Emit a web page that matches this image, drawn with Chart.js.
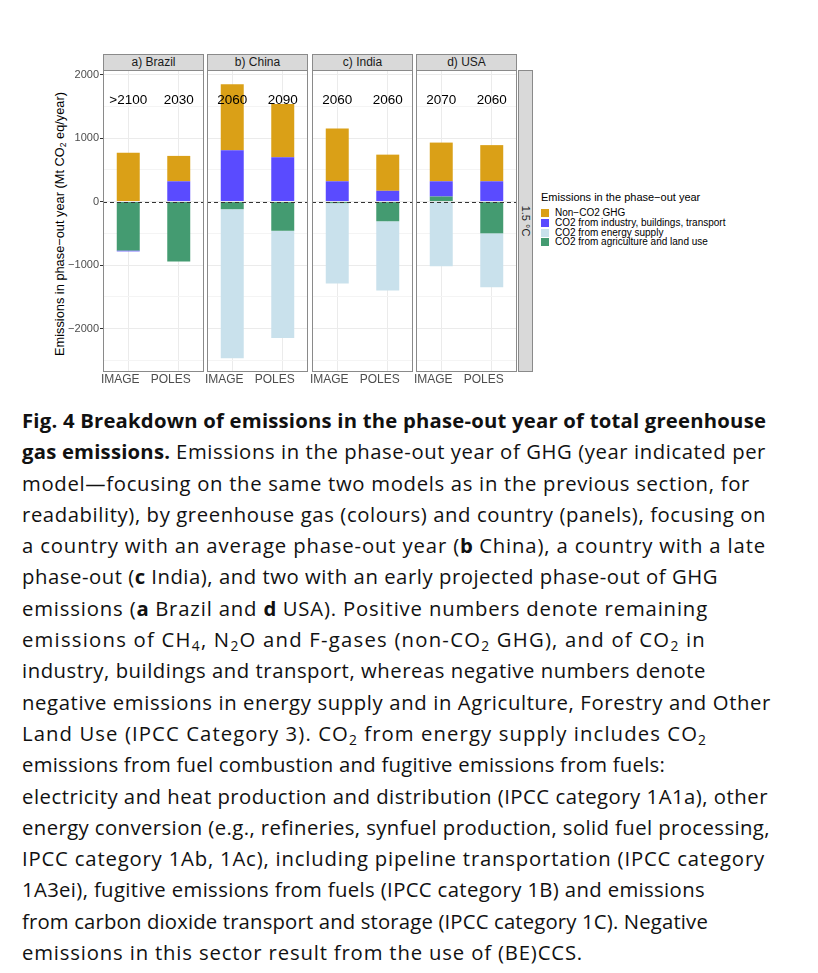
<!DOCTYPE html>
<html>
<head>
<meta charset="utf-8">
<script src="https://cdn.jsdelivr.net/npm/chart.js@4.4.1/dist/chart.umd.min.js"></script>
<style>
  body { margin: 0; background: #fff; width: 818px; height: 973px; position: relative; overflow: hidden;
         font-family: "Liberation Sans", Arial, sans-serif; }
  .panel { position: absolute; top: 70px; }
  .strip { position: absolute; top: 54px; height: 17px; background: #d9d9d9; border: 1px solid #8a8a8a;
           box-sizing: border-box; font-size: 12px; color: #1a1a1a; text-align: center; line-height: 15px; }
  #rstrip { position: absolute; left: 518px; top: 70px; width: 15px; height: 302px; background: #d9d9d9;
            border: 1px solid #8a8a8a; box-sizing: border-box; }
  #rstrip span { position: absolute; left: 50%; top: 50%; transform: translate(-50%, -50%) rotate(90deg);
                 font-size: 11px; white-space: nowrap; color: #1a1a1a; }
  #ytitle { position: absolute; left: 59px; top: 224px; transform: translate(-50%, -50%) rotate(-90deg);
            font-size: 12.8px; white-space: nowrap; color: #000; }
  #ytitle sub { font-size: 8.5px; vertical-align: -2px; line-height: 0; }
  #legend { position: absolute; left: 541px; top: 191px; font-size: 10px; color: #000; }
  #legend .lt { font-size: 11px; margin-bottom: 5px; }
  #legend .li { height: 9.8px; line-height: 9.8px; white-space: nowrap; }
  #legend .li span { display: inline-block; width: 8px; height: 8px; margin-right: 6px; vertical-align: -1px; }
  #caption { position: absolute; left: 22px; top: 405px; font-family: "Open Sans", sans-serif; font-size: 20.3px;
             letter-spacing: 0.45px; line-height: 31.3px; color: #111; }
  #caption div { white-space: nowrap; }
  #caption div span { display: inline-block; }
  #caption sub { font-size: 0.68em; vertical-align: -0.3em; line-height: 0; }
</style>
</head>
<body>
<div id="ytitle">Emissions in phase−out year (Mt CO<sub>2</sub> eq/year)</div>
<div id="rstrip"><span>1.5 °C</span></div>
<div id="legend"></div>
<div id="caption">
  <div><span><b>Fig. 4 Breakdown of emissions in the phase-out year of total greenhouse</b></span></div>
  <div><span><b>gas emissions.</b> Emissions in the phase-out year of GHG (year indicated per</span></div>
  <div><span>model—focusing on the same two models as in the previous section, for</span></div>
  <div><span>readability), by greenhouse gas (colours) and country (panels), focusing on</span></div>
  <div><span>a country with an average phase-out year (<b>b</b> China), a country with a late</span></div>
  <div><span>phase-out (<b>c</b> India), and two with an early projected phase-out of GHG</span></div>
  <div><span>emissions (<b>a</b> Brazil and <b>d</b> USA). Positive numbers denote remaining</span></div>
  <div><span>emissions of CH<sub>4</sub>, N<sub>2</sub>O and F-gases (non-CO<sub>2</sub> GHG), and of CO<sub>2</sub> in</span></div>
  <div><span>industry, buildings and transport, whereas negative numbers denote</span></div>
  <div><span>negative emissions in energy supply and in Agriculture, Forestry and Other</span></div>
  <div><span>Land Use (IPCC Category 3). CO<sub>2</sub> from energy supply includes CO<sub>2</sub></span></div>
  <div><span>emissions from fuel combustion and fugitive emissions from fuels:</span></div>
  <div><span>electricity and heat production and distribution (IPCC category 1A1a), other</span></div>
  <div><span>energy conversion (e.g., refineries, synfuel production, solid fuel processing,</span></div>
  <div><span>IPCC category 1Ab, 1Ac), including pipeline transportation (IPCC category</span></div>
  <div><span>1A3ei), fugitive emissions from fuels (IPCC category 1B) and emissions</span></div>
  <div><span>from carbon dioxide transport and storage (IPCC category 1C). Negative</span></div>
  <div><span>emissions in this sector result from the use of (BE)CCS.</span></div>
</div>
<script>
const countries = ['a) Brazil', 'b) China', 'c) India', 'd) USA'];
const models = ['IMAGE', 'POLES'];
const phaseOutYears = [['>2100', '2030'], ['2060', '2090'], ['2060', '2060'], ['2070', '2060']];

// Mt CO2 eq/year, [IMAGE, POLES] per country
const nonCO2 = [[770, 400], [1040, 840], [830, 570], [610, 570]];
const co2Industry = [[-15, 320], [810, 700], [320, 170], [240, 320]];
const co2Energy = [[0, 0], [-2350, -1690], [-1265, -1090], [-1020, -850]];
const co2Agri = [[-770, -945], [-120, -460], [-25, -310], [80, -500]];

const yTickLabels = [-2000, -1000, 0, 1000, 2000];
const yearLabelValue = 1600;

const seriesNames = ['Non−CO2 GHG', 'CO2 from industry, buildings, transport', 'CO2 from energy supply', 'CO2 from agriculture and land use'];
const seriesColors = ['#DAA017', '#5A4BFF', '#C9E1EC', '#449B71'];

const panelLeft = [103, 207, 312, 416];
const panelW = 101, panelH = 302, xLabH = 20;
const axisW = [44, 4, 4, 4];

document.getElementById('legend').innerHTML =
  '<div class="lt">Emissions in the phase−out year</div>' +
  seriesNames.map((n, k) => `<div class="li"><span style="background:${seriesColors[k]}"></span>${n}</div>`).join('');

const panelDecor = {
  id: 'panelDecor',
  afterDatasetsDraw(chart, args, opts) {
    const { ctx, chartArea: a, scales: { x, y } } = chart;
    const y0 = Math.round(y.getPixelForValue(0)) + 0.5;
    ctx.save();
    ctx.strokeStyle = '#333';
    ctx.lineWidth = 1;
    ctx.setLineDash([4, 3]);
    ctx.beginPath();
    ctx.moveTo(a.left, y0);
    ctx.lineTo(a.right, y0);
    ctx.stroke();
    ctx.setLineDash([]);
    ctx.fillStyle = '#000';
    ctx.font = '13.5px "Liberation Sans", Arial, sans-serif';
    ctx.textAlign = 'center';
    ctx.textBaseline = 'middle';
    opts.years.forEach((t, j) => ctx.fillText(t, x.getPixelForValue(j), y.getPixelForValue(yearLabelValue)));
    ctx.strokeStyle = '#8a8a8a';
    ctx.strokeRect(a.left + 0.5, a.top + 0.5, a.width - 1, a.height - 1);
    ctx.restore();
  }
};

countries.forEach((name, i) => {
  const first = i === 0;
  const strip = document.createElement('div');
  strip.className = 'strip';
  strip.style.left = panelLeft[i] + 'px';
  strip.style.width = panelW + 'px';
  strip.textContent = name;
  document.body.appendChild(strip);

  const box = document.createElement('div');
  box.className = 'panel';
  box.style.left = (panelLeft[i] - axisW[i]) + 'px';
  box.style.width = (panelW + axisW[i]) + 'px';
  box.style.height = (panelH + xLabH) + 'px';
  const cv = document.createElement('canvas');
  box.appendChild(cv);
  document.body.appendChild(box);

  // stacking order from zero outwards: agriculture, energy, industry, non-CO2
  const series = [co2Agri, co2Energy, co2Industry, nonCO2];
  const colorIdx = [3, 2, 1, 0];

  new Chart(cv, {
    type: 'bar',
    data: {
      labels: models,
      datasets: series.map((s, k) => ({
        label: seriesNames[colorIdx[k]],
        data: s[i],
        backgroundColor: seriesColors[colorIdx[k]],
        borderWidth: 0,
        barPercentage: 0.455,
        categoryPercentage: 1
      }))
    },
    options: {
      responsive: true,
      maintainAspectRatio: false,
      animation: false,
      layout: { padding: 0 },
      plugins: {
        legend: { display: false },
        tooltip: { enabled: false },
        panelDecor: { years: phaseOutYears[i] }
      },
      scales: {
        x: {
          stacked: true,
          afterFit: s => { s.height = xLabH; s.paddingLeft = 0; s.paddingRight = 0; },
          border: { display: false },
          grid: { color: '#EBEBEB', drawTicks: false, offset: false },
          ticks: {
            color: '#4D4D4D',
            font: { size: 12, family: '"Liberation Sans", Arial, sans-serif' },
            padding: 0,
            labelOffset: -8,
            maxRotation: 0,
            autoSkip: false
          }
        },
        y: {
          stacked: true,
          min: -2686,
          max: 2074,
          afterBuildTicks: s => {
            const t = [];
            for (let v = Math.ceil(s.min / 500) * 500; v <= s.max; v += 500) t.push({ value: v });
            s.ticks = t;
          },
          afterFit: s => { s.width = axisW[i]; s.paddingTop = 0; s.paddingBottom = 0; },
          border: { display: false },
          grid: {
            color: c => (c.tick && c.tick.value % 1000 === 0 ? '#EBEBEB' : '#F4F4F4'),
            tickColor: c => (c.tick && yTickLabels.includes(c.tick.value) ? '#333' : 'rgba(0,0,0,0)'),
            drawTicks: first,
            tickLength: 3
          },
          ticks: {
            display: first,
            autoSkip: false,
            padding: 1,
            color: '#4D4D4D',
            font: { size: 11, family: '"Liberation Sans", Arial, sans-serif' },
            callback: v => (yTickLabels.includes(v) ? String(v).replace('-', '\u2212') : '')
          }
        }
      }
    },
    plugins: [panelDecor]
  });
});

// caption: squeeze the bold face, then stretch each printed line to its length in print
const boldLine = document.querySelector('#caption b');
boldLine.style.letterSpacing = '0px';
const natural = boldLine.getBoundingClientRect().width;
const ls = (744 - natural) / boldLine.textContent.length;
document.querySelectorAll('#caption b').forEach(b => { b.style.letterSpacing = ls.toFixed(2) + 'px'; });

const lineEnds = [766, 766, 750, 766, 766, 718, 708, 706, 706, 771, 707, 665, 768, 770, 765, 705, 708, 583];
document.querySelectorAll('#caption div span').forEach((sp, k) => {
  const w = sp.getBoundingClientRect().width;
  const boldChars = [...sp.querySelectorAll('b')].reduce((n, b) => n + b.textContent.length, 0);
  const chars = sp.textContent.length - boldChars;
  const target = lineEnds[k] - 22;
  if (chars > 0) sp.style.letterSpacing = (0.45 + (target - w) / chars).toFixed(3) + 'px';
});
</script>
</body>
</html>
